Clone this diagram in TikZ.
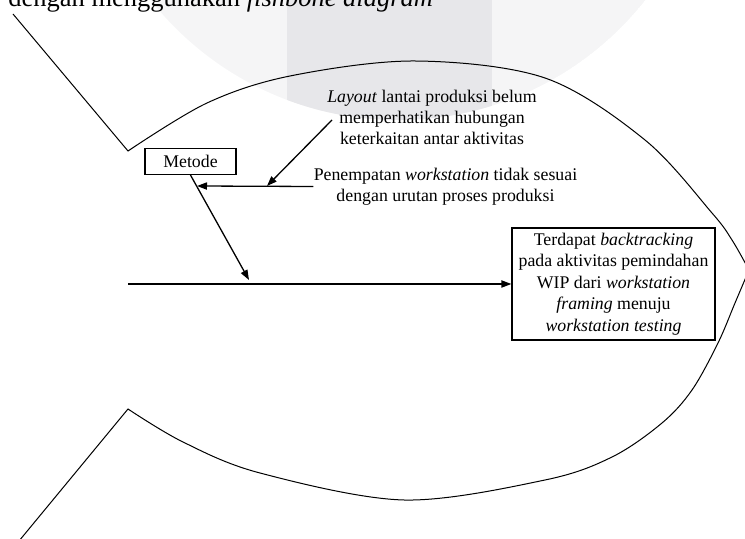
\documentclass[tikz,border=0pt]{standalone}
\usepackage{fontspec}
\setmainfont{Liberation Serif}
\usetikzlibrary{arrows.meta,calc}
\definecolor{wmlight}{RGB}{245,245,246}
\definecolor{wmdark}{RGB}{231,231,234}
\begin{document}
\begin{tikzpicture}[x=0.5pt,y=-0.5pt,
  fishline/.style={line width=0.5pt},
  bone/.style={line width=0.65pt,-{Triangle[length=5pt,width=3.6pt]}},
  boxnode/.style={draw,line width=0.6pt,inner sep=0pt},
  lbl/.style={font=\fontsize{8.9}{10.5}\selectfont,align=center,inner sep=0pt},
  bodytext/.style={font=\fontsize{13.25}{15}\selectfont,inner sep=0pt}]
\useasboundingbox (0,0) rectangle (745,539);
\clip (0,0) rectangle (745,539);
% watermark
\begin{scope}
  \clip (398,-195) circle[radius=315];
  \fill[wmlight] (398,-195) circle[radius=315];
  \fill[wmdark] (287,-20) rectangle (492,200);
\end{scope}
% body text line above the figure (cut off)
\node[bodytext,anchor=base west] (caption) at (8,7) {dengan menggunakan \textit{fishbone diagram}};
% fish outline
\draw[fishline] (13,14) -- plot[smooth,tension=0.55] coordinates {(128,151) (207,103) (290,76) (415,61) (545,78) (645,140) (712,213) (732,240) (749,270)};
\draw[fishline] (19,541) -- plot[smooth,tension=0.55] coordinates {(128,409) (183,442) (260,473) (404,500) (545,480) (612,457) (662,423) (692,390) (718,343) (735,303) (749,270)};
% nodes
\node[boxnode,lbl,minimum width=45.5pt,minimum height=13pt] (metode) at (190.5,161.5) {Metode};
\node[boxnode,lbl,font=\fontsize{8.9}{10.75}\selectfont,minimum width=101.5pt,minimum height=56pt] (effect) at (613.5,284)
  {Terdapat \textit{backtracking}\\pada aktivitas pemindahan\\WIP dari \textit{workstation}\\\textit{framing} menuju\\\textit{workstation testing}};
\node[lbl] (layout) at (432,117) {\textit{Layout} lantai produksi belum\\memperhatikan hubungan\\keterkaitan antar aktivitas};
\node[lbl] (pen) at (445.5,186.5) {Penempatan \textit{workstation} tidak sesuai\\dengan urutan proses produksi};
% coordinates
\coordinate (spinestart) at (128,284);
\coordinate (mtip) at (249,280);
\coordinate (htip) at (197,186);
\coordinate (lstart) at (332,120);
\coordinate (ltip) at (267,186);
% connectors
\draw[bone] (spinestart) -- (effect.west);
\draw[bone] (metode.south) -- (mtip);
\draw[bone] (pen.west) -- (htip);
\draw[bone] (lstart) -- (ltip);
\end{tikzpicture}
\end{document}
